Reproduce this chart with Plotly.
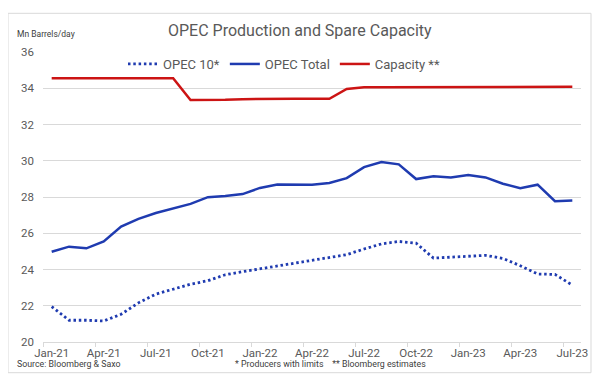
import plotly.graph_objects as go

months = ["Jan-21", "Feb-21", "Mar-21", "Apr-21", "May-21", "Jun-21", "Jul-21", "Aug-21",
          "Sep-21", "Oct-21", "Nov-21", "Dec-21", "Jan-22", "Feb-22", "Mar-22", "Apr-22",
          "May-22", "Jun-22", "Jul-22", "Aug-22", "Sep-22", "Oct-22", "Nov-22", "Dec-22",
          "Jan-23", "Feb-23", "Mar-23", "Apr-23", "May-23", "Jun-23", "Jul-23"]

opec10 = [21.95, 21.2, 21.2, 21.16, 21.53, 22.16, 22.64, 22.9, 23.19, 23.38, 23.71, 23.88,
          24.03, 24.19, 24.36, 24.52, 24.67, 24.82, 25.13, 25.41, 25.55, 25.45, 24.63, 24.68,
          24.72, 24.78, 24.61, 24.21, 23.75, 23.73, 23.14]

opec_total = [24.98, 25.26, 25.17, 25.55, 26.37, 26.79, 27.12, 27.38, 27.62, 27.99, 28.05, 28.16,
              28.5, 28.69, 28.69, 28.68, 28.77, 29.04, 29.65, 29.93, 29.8, 28.99, 29.14, 29.08,
              29.21, 29.08, 28.73, 28.49, 28.68, 27.77, 27.81]

capacity = [34.55, 34.55, 34.55, 34.55, 34.55, 34.55, 34.55, 34.55, 33.35, 33.35, 33.36, 33.4,
            33.42, 33.42, 33.42, 33.42, 33.42, 33.96, 34.05, 34.05, 34.05, 34.05, 34.05, 34.05,
            34.05, 34.06, 34.08, 34.08, 34.08, 34.08, 34.08]

y_ticks = [20, 22, 24, 26, 28, 30, 32, 34, 36]

BLUE = "#1f3bb0"
RED = "#cc1414"
GRAY = "#595959"
GRID = "#d9d9d9"
FONT = "Roboto"

# page offset (browser body margin)
OFF = 8
W, H = 601 - OFF, 388 - OFF
# plot area in page pixels: x 43..581, y 52..342
L, R, T, B = 43 - OFF, 601 - 581, 52 - OFF, 388 - 342
PW, PH = W - L - R, H - T - B


def px(x):
    return (x - OFF - L) / PW


def py(y):
    return (H - B - (y - OFF)) / PH


fig = go.Figure()
fig.add_trace(go.Scatter(x=months, y=opec10, name="OPEC 10*", mode="lines",
                         line=dict(color=BLUE, width=2.8, dash="2.5px,2.8px")))
fig.add_trace(go.Scatter(x=months, y=opec_total, name="OPEC Total", mode="lines",
                         line=dict(color=BLUE, width=2.5)))
fig.add_trace(go.Scatter(x=months, y=capacity, name="Capacity **", mode="lines",
                         line=dict(color=RED, width=2.5)))

fig.update_layout(
    width=W, height=H,
    margin=dict(l=L, r=R, t=T, b=B),
    paper_bgcolor="white", plot_bgcolor="white",
    font=dict(family=FONT, color=GRAY),
    showlegend=True,
    legend=dict(orientation="h", x=px(284), xanchor="center", y=py(64), yanchor="middle",
                font=dict(size=13, color=GRAY), bgcolor="rgba(0,0,0,0)", itemwidth=30,
                traceorder="normal"),
    xaxis=dict(type="category", range=[-0.5, 30.5], tickmode="linear", tick0=0, dtick=3,
               tickson="boundaries", ticks="outside", ticklen=4, tickcolor=GRID,
               showline=True, linecolor=GRID, linewidth=1, showgrid=False, tickangle=0,
               tickfont=dict(size=11.5, color=GRAY), fixedrange=True),
    yaxis=dict(range=[20, 36], tickmode="array", tickvals=y_ticks, ticktext=[str(v) for v in y_ticks],
               showgrid=True, gridcolor=GRID, gridwidth=1, zeroline=False, showline=False,
               ticks="", tickfont=dict(size=11.5, color=GRAY), ticklabelstandoff=8,
               fixedrange=True),
    shapes=[dict(type="rect", xref="paper", yref="paper", x0=px(8), x1=px(591),
                 y0=py(372.7), y1=py(13.3), line=dict(color=GRID, width=1), layer="below")],
    annotations=[
        dict(text="OPEC Production and Spare Capacity", xref="paper", yref="paper",
             x=px(300), y=py(30), xanchor="center", yanchor="middle", showarrow=False,
             font=dict(size=16, color=GRAY)),
        dict(text="Mn Barrels/day", xref="paper", yref="paper", x=px(15), y=py(34),
             xanchor="left", yanchor="middle", showarrow=False,
             font=dict(size=8.5, color="#404040")),
        dict(text="Source: Bloomberg & Saxo", xref="paper", yref="paper", x=px(15), y=py(364),
             xanchor="left", yanchor="middle", showarrow=False,
             font=dict(size=8.8, color="#404040")),
        dict(text="* Producers with limits&nbsp;&nbsp;&nbsp;&nbsp;** Bloomberg estimates",
             xref="paper", yref="paper", x=px(330), y=py(364), xanchor="center",
             yanchor="middle", showarrow=False, font=dict(size=8.8, color="#404040")),
    ],
)

fig.write_html("out.html")
